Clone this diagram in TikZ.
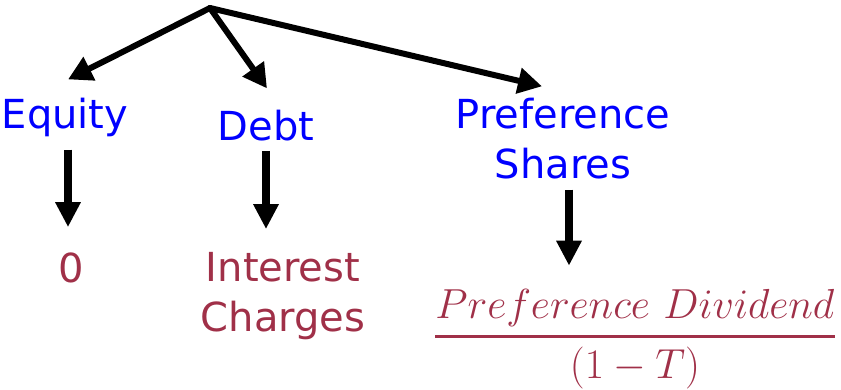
\RequirePackage{fix-cm}
\documentclass[tikz,border=0pt]{standalone}
\usepackage{amsmath}
\usepackage{fontspec}
\setmainfont{DejaVu Sans}
\usetikzlibrary{arrows.meta}
\definecolor{srcblue}{RGB}{0,0,255}
\definecolor{costred}{RGB}{160,48,72}
\begin{document}
\begin{tikzpicture}[x=1pt,y=-1pt,
  source/.style={font=\fontsize{40}{50}\selectfont, text=srcblue, inner sep=0pt, align=center},
  cost/.style={font=\fontsize{40}{50}\selectfont, text=costred, inner sep=0pt, align=center},
  fanarrow/.style={line width=6pt, line cap=round, -{Triangle[length=24pt,width=25pt]}},
  downarrow/.style={line width=8pt, -{Triangle[length=25pt,width=24pt]}}]
  \useasboundingbox (0,0) rectangle (841,389);

  % root of the split
  \coordinate (root) at (210,8);

  % sources of finance
  \node[source, anchor=base] (equity) at (65,128) {Equity};
  \node[source, anchor=base] (debt) at (266,140) {Debt};
  \node[source] (pref) at (563,139) {Preference\\Shares};

  % cost of each source
  \node[cost, anchor=base] (zero) at (71,282) {0};
  \node[cost] (interest) at (283,296) {Interest\\Charges};
  \node[text=costred, inner sep=0pt, font=\fontsize{42}{50}\selectfont] (dividend) at (635,339)
    {$\genfrac{}{}{3pt}{0}{Preference\ Dividend}{(1-T)}$};

  % fan-out arrows
  \draw[fanarrow] (root) -- ([shift={(3,-18)}]equity.north);
  \draw[fanarrow] (root) -- ([shift={(1,-21)}]debt.north);
  \draw[fanarrow] (root) -- ([shift={(-21,-12)}]pref.north);

  % arrows down to the costs
  \draw[downarrow] ([shift={(3,13)}]equity.south) -- ([shift={(-3,-25)}]zero.north);
  \draw[downarrow] ([shift={(0,10)}]debt.south) -- ([shift={(-17,-23)}]interest.north);
  \draw[downarrow] ([shift={(6,10)}]pref.south) -- ([shift={(-66,-23)}]dividend.north);
\end{tikzpicture}
\end{document}
